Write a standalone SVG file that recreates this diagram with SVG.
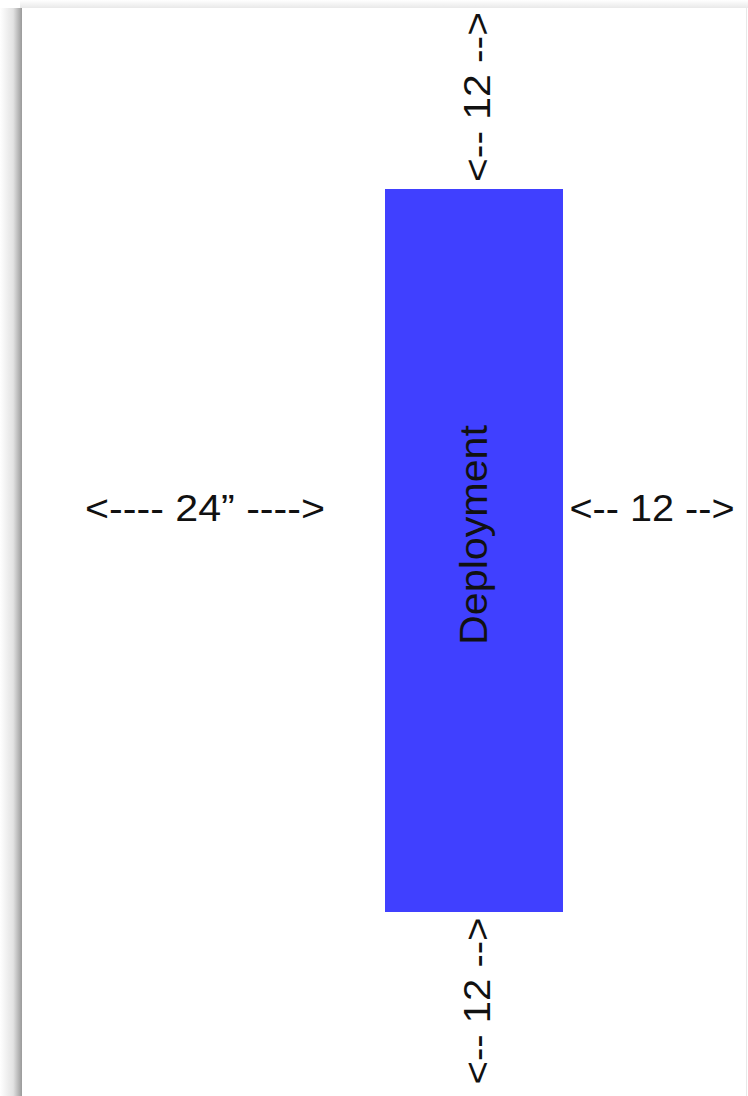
<svg xmlns="http://www.w3.org/2000/svg" width="748" height="1096" viewBox="0 0 748 1096">
  <defs>
    <linearGradient id="shL" x1="0" y1="0" x2="1" y2="0">
      <stop offset="0" stop-color="#ffffff"/>
      <stop offset="0.6" stop-color="#e2e2e2"/>
      <stop offset="1" stop-color="#9a9a9a"/>
    </linearGradient>
    <linearGradient id="shT" x1="0" y1="0" x2="0" y2="1">
      <stop offset="0" stop-color="#ffffff"/>
      <stop offset="1" stop-color="#e6e6e6"/>
    </linearGradient>
    <style>
      .lbl { font-family: "Liberation Sans", Arial, sans-serif; font-size: 37px; fill: #111; text-anchor: middle; }
      .big { font-size: 39px; }
    </style>
  </defs>
  <rect x="0" y="0" width="748" height="1096" fill="#ffffff"/>
  <rect x="20" y="0" width="728" height="9" fill="url(#shT)"/>
  <rect x="0" y="8" width="22" height="1088" fill="url(#shL)"/>
  <rect x="22" y="8" width="726" height="1088" fill="#ffffff"/>
  <line x1="746.5" y1="8" x2="746.5" y2="1096" stroke="#e8e8e8" stroke-width="1"/>

  <g id="deployment">
    <rect x="385" y="189" width="178" height="723" fill="#4040FF"/>
    <text class="lbl big" transform="translate(487,535) rotate(-90)" textLength="220" lengthAdjust="spacingAndGlyphs">Deployment</text>
  </g>

  <g id="connectors">
    <text id="dim-left" class="lbl" x="205" y="521" textLength="240" lengthAdjust="spacingAndGlyphs">&lt;---- 24” ----&gt;</text>
    <text id="dim-right" class="lbl" x="652" y="521" textLength="165" lengthAdjust="spacingAndGlyphs">&lt;-- 12 --&gt;</text>
    <text id="dim-top" class="lbl" transform="translate(490,97) rotate(-90)" textLength="170" lengthAdjust="spacingAndGlyphs">&lt;-- 12 --&gt;</text>
    <text id="dim-bottom" class="lbl" transform="translate(490,1001) rotate(-90)" textLength="167" lengthAdjust="spacingAndGlyphs">&lt;-- 12 --&gt;</text>
  </g>
</svg>
